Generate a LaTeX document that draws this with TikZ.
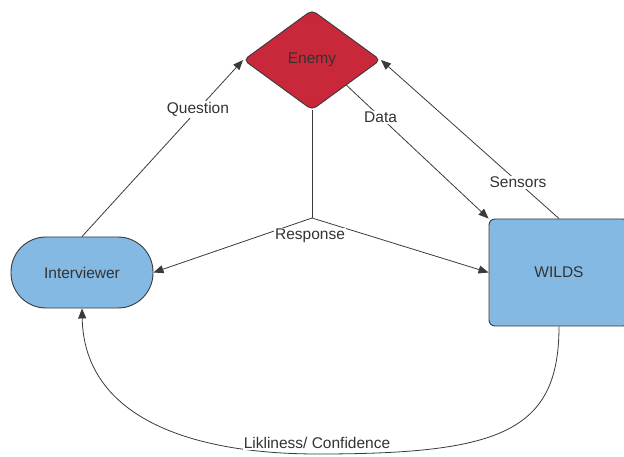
\documentclass[tikz,border=0pt]{standalone}
\usepackage{fontspec}
\setmainfont{Liberation Sans}
\usetikzlibrary{shapes.geometric,arrows.meta}
\definecolor{enemyred}{HTML}{C9283A}
\definecolor{boxblue}{HTML}{83B9E3}
\definecolor{edgegray}{HTML}{3A3A3A}
\definecolor{txtgray}{HTML}{333333}
\begin{document}
\begin{tikzpicture}[x=1pt,y=-1pt,
  every node/.style={font=\fontsize{15.5}{18}\selectfont, text=txtgray},
  shapebox/.style={draw=edgegray, line width=0.9pt},
  conn/.style={draw=edgegray, line width=0.8pt},
  arr/.style={conn, -{Triangle[length=10pt,width=8pt]}},
  lbl/.style={fill=white, inner sep=1pt}]
  \clip (0,0) rectangle (624,457);
  \path[use as bounding box] (0,0) rectangle (624,457);

  % actors
  \node[shapebox, diamond, fill=enemyred, minimum width=137pt, minimum height=100pt,
        inner sep=0pt, rounded corners=5pt] (enemy) at (312,60) {Enemy};
  \node[shapebox, fill=boxblue, rounded corners=35pt, minimum width=142pt,
        minimum height=71pt] (interviewer) at (82,272.5) {Interviewer};
  \node[shapebox, fill=boxblue, rounded corners=6pt, minimum width=140pt,
        minimum height=107pt] (wilds) at (559,272.5) {WILDS};

  % information flow
  \draw[arr] (interviewer.north) -- node[lbl, pos=0.72] {Question} (enemy.west);
  \draw[arr] (enemy.south east) -- node[lbl, pos=0.24] {Data} (wilds.north west);
  \draw[arr] (wilds.north) -- node[lbl, pos=0.23] {Sensors} (enemy.east);

  \coordinate (split) at (312,218);
  \draw[conn] (enemy.south) -- (split);
  \draw[arr] (split) -- (interviewer.east);
  \draw[arr] (split) -- (wilds.west);
  \node[lbl] (resp) at (310,236) {Response};

  \draw[arr] (wilds.south) .. controls (559,432) and (500,454) .. (318,454)
             coordinate (bottom)
             .. controls (180,454) and (84,412) .. (interviewer.south);
  \node[lbl] (conf) at (317,443) {Likliness/ Confidence};
\end{tikzpicture}
\end{document}
